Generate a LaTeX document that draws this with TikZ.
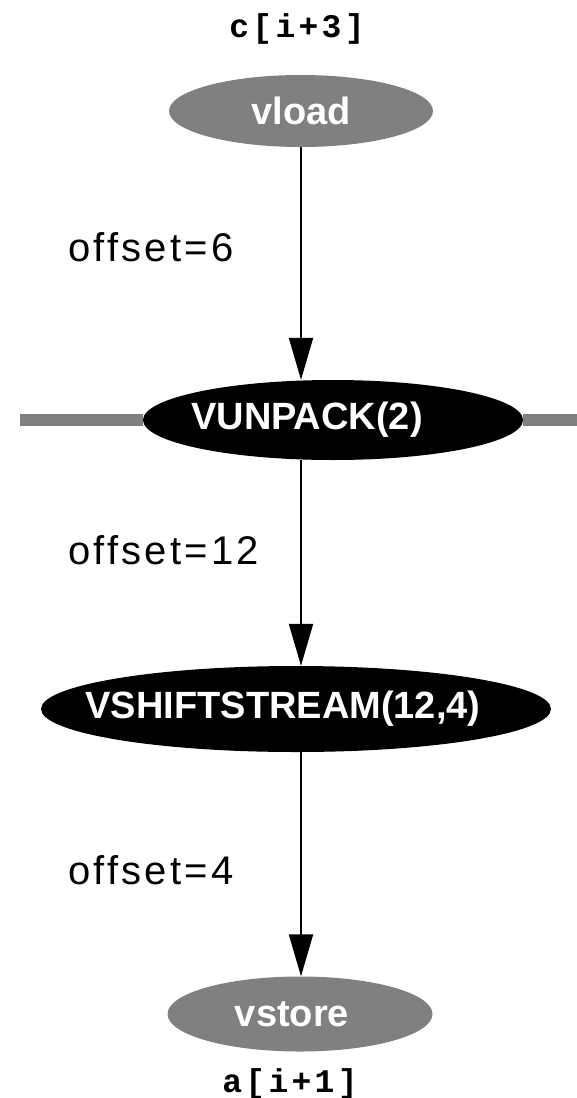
\documentclass[tikz,border=0pt]{standalone}
\usepackage{fontspec}
\setmainfont{Liberation Sans}
\newfontfamily\codefont[LetterSpace=10]{Liberation Mono}
\newfontfamily\edgefont[LetterSpace=8]{Liberation Sans}
\usetikzlibrary{shapes.geometric,arrows.meta}
\definecolor{opgray}{HTML}{808080}
\tikzset{
  op/.style={ellipse, inner sep=0pt, text=white,
    font=\fontsize{38}{40}\selectfont\bfseries},
  memop/.style={op, fill=opgray},
  vecop/.style={op, fill=black},
  oplab/.style={text=white, font=\fontsize{38}{40}\selectfont\bfseries},
  edgelab/.style={anchor=west, inner sep=0pt,
    font=\edgefont\fontsize{40}{42}\selectfont},
  addr/.style={inner sep=0pt, font=\codefont\bfseries\fontsize{33}{35}\selectfont},
  flow/.style={line width=2pt, -{Triangle[width=24pt,length=42pt]}},
  stream/.style={line width=12pt, opgray}
}
\begin{document}
\begin{tikzpicture}[x=1pt,y=-1pt]
\useasboundingbox (0,0) rectangle (577,1098);
\fill[white] (0,0) rectangle (577,1098);

% stream bar behind the unpack node
\coordinate (barL) at (20,420);
\coordinate (barR) at (577,420);

% operation nodes
\node[memop, minimum width=264pt, minimum height=72pt] (vload) at (301,111) {vload};
\node[vecop, minimum width=380pt, minimum height=80pt,
      label={[oplab, xshift=-26pt]center:VUNPACK(2)}]
      (unpack) at (333,420) {};
\node[vecop, minimum width=510pt, minimum height=86pt,
      label={[oplab, xshift=-13pt]center:VSHIFTSTREAM(12,4)}]
      (vshift) at (296,709) {};
\node[memop, minimum width=265pt, minimum height=75pt,
      label={[oplab, xshift=-8pt]center:vstore}]
      (vstore) at (300,1014) {};

\draw[stream] (barL) -- (unpack.west);
\draw[stream] (unpack.east) -- (barR);

% array references
\node[addr] (cref) at (297,29) {c[i+3]};
\node[addr] (aref) at (290,1084) {a[i+1]};

% data flow
\draw[flow] (vload.south) -- (vload.south |- unpack.north);
\draw[flow] (vload.south |- unpack.south) -- (vload.south |- vshift.north);
\draw[flow] (vload.south |- vshift.south) -- (vload.south |- vstore.north);

% edge labels
\node[edgelab] (l1) at (68,247) {offset=6};
\node[edgelab] (l2) at (68,550) {offset=12};
\node[edgelab] (l3) at (68,870) {offset=4};
\end{tikzpicture}
\end{document}
